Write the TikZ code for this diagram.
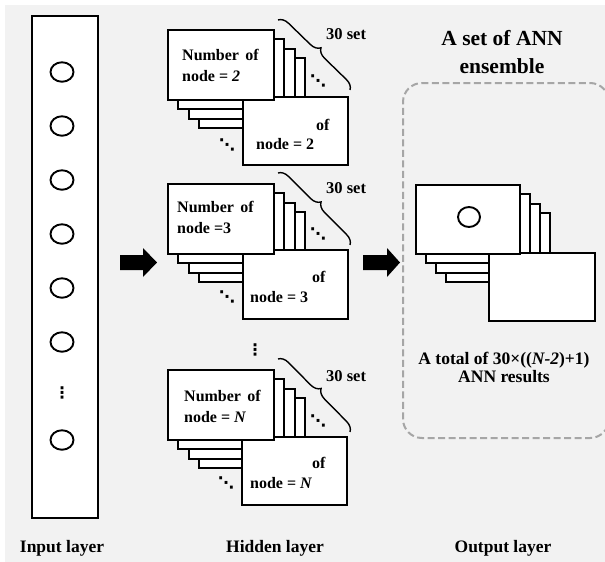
\documentclass[tikz,border=0pt]{standalone}
\usepackage{fontspec}
\setmainfont{Liberation Serif}
\newfontfamily\symfont{DejaVu Sans}
\usetikzlibrary{decorations.pathreplacing,shapes.geometric}
\definecolor{bgc}{HTML}{F2F2F2}
\definecolor{dashc}{HTML}{A6A6A6}
\begin{document}
\begin{tikzpicture}[x=1pt,y=-1pt,
  card/.style={draw=black,line width=2.1pt,fill=white,inner sep=0pt,anchor=north west,minimum width=106pt,minimum height=70pt},
  lastcard/.style={card,minimum width=105pt,minimum height=68pt},
  neuron/.style={draw=black,line width=1.9pt,ellipse,minimum width=23pt,minimum height=19.5pt,inner sep=0pt},
  cardtxt/.style={font=\fontsize{16}{20}\selectfont\bfseries,anchor=base west,inner sep=0pt},
  settxt/.style={font=\fontsize{16.5}{20}\selectfont\bfseries,anchor=base west,inner sep=0pt},
  lbl/.style={font=\fontsize{17.5}{20}\selectfont\bfseries,anchor=base,inner sep=0pt},
  ttl/.style={font=\fontsize{21.5}{26}\selectfont\bfseries,anchor=base,inner sep=0pt},
  tot/.style={font=\fontsize{17.5}{20}\selectfont\bfseries,anchor=base,inner sep=0pt},
  dotsym/.style={font=\fontsize{16}{16}\symfont\bfseries,inner sep=0pt},
  brc/.style={decorate,decoration={brace,amplitude=10pt},line width=1.4pt},
  blockarrow/.style={fill=black}]
\clip (0,0) rectangle (605,562);
\fill[white] (0,0) rectangle (605,562);
\fill[bgc] (5,5) rectangle (605,562);

% ---------- input layer ----------
\node[draw,line width=2.1pt,fill=white,minimum width=66pt,minimum height=502pt,anchor=north west,inner sep=0pt] (input) at (31,15) {};
\foreach \y [count=\i] in {72,126,180,234,288,342}
  \node[neuron] (n\i) at (62,\y) {};
\node[dotsym] (ndots) at (62,393) {⋮};
\node[neuron] (nN) at (62,440) {};
\node[lbl] (inlbl) at (62,552) {Input layer};

% ---------- arrows ----------
\coordinate (a1) at (120,262.5);
\fill[blockarrow] (a1) ++(0,-7.5) -- ++(23,0) -- ++(0,-7) -- (157,262.5) -- (143,277) -- ++(0,-7) -- (120,270) -- cycle;
\coordinate (a2) at (363,262.5);
\fill[blockarrow] (a2) ++(0,-7.5) -- ++(24,0) -- ++(0,-7) -- (400,262.5) -- (387,277) -- ++(0,-7) -- (363,270) -- cycle;

% ---------- hidden group 1 ----------
\foreach \k in {3,2,1}
  \node[card] (g1c\k) at ({167+10.3*\k},{29+9.3*\k}) {};
\node[lastcard] (g1last) at (242,96) {};
\node[card] (g1c0) at (167,29) {};
\node[cardtxt] (g1t1) at (182,60) {Number\hspace{0.4em}of};
\node[cardtxt] (g1t2) at (182,81) {node = \textit{2}};
\node[cardtxt] (g1l1) at (316,130) {of};
\node[cardtxt] (g1l2) at (256,149) {node = 2};
\node[dotsym] (g1d1) at (318,81) {⋱};
\node[dotsym] (g1d2) at (227,145) {⋱};
\coordinate (g1bs) at (278,20);
\coordinate (g1be) at (350,90);
\draw[brc] (g1bs) -- (g1be);
\node[settxt] (g1set) at (326,39.5) {30 set};

% ---------- hidden group 2 ----------
\foreach \k in {3,2,1}
  \node[card] (g2c\k) at ({167+10.3*\k},{183+9.3*\k}) {};
\node[lastcard,minimum height=69pt] (g2last) at (242,249) {};
\node[card] (g2c0) at (167,183) {};
\node[cardtxt] (g2t1) at (177,212) {Number\hspace{0.4em}of};
\node[cardtxt] (g2t2) at (177,233) {node =3};
\node[cardtxt] (g2l1) at (312,282) {of};
\node[cardtxt] (g2l2) at (250,302) {node = 3};
\node[dotsym] (g2d1) at (318,234) {⋱};
\node[dotsym] (g2d2) at (227,297) {⋱};
\coordinate (g2bs) at (278,173);
\coordinate (g2be) at (350,245);
\draw[brc] (g2bs) -- (g2be);
\node[settxt] (g2set) at (326,193.5) {30 set};

\node[dotsym] (vdots) at (255,350) {⋮};

% ---------- hidden group 3 ----------
\foreach \k in {3,2,1}
  \node[card] (g3c\k) at ({167+10.3*\k},{369+9.3*\k}) {};
\node[lastcard] (g3last) at (241,436) {};
\node[card] (g3c0) at (167,369) {};
\node[cardtxt] (g3t1) at (184,401) {Number\hspace{0.4em}of};
\node[cardtxt] (g3t2) at (184,422) {node = \textit{N}};
\node[cardtxt] (g3l1) at (312,468) {of};
\node[cardtxt] (g3l2) at (250,488) {node = \textit{N}};
\node[dotsym] (g3d1) at (318,421) {⋱};
\node[dotsym] (g3d2) at (226,483) {⋱};
\coordinate (g3bs) at (278,359);
\coordinate (g3be) at (350,432);
\draw[brc] (g3bs) -- (g3be);
\node[settxt] (g3set) at (326,381) {30 set};

\node[lbl] (hidlbl) at (275,552) {Hidden layer};

% ---------- output ----------
\node[ttl] (title1) at (502,45) {A set of ANN};
\node[ttl] (title2) at (502,73) {ensemble};
\coordinate (ensA) at (609,110);
\coordinate (ensB) at (609,410);
\draw[dashc,line width=2pt,dash pattern=on 7pt off 3.5pt,rounded corners=19pt]
  (ensA) -- (609,83) -- (403,83) -- (403,438) -- (609,438) -- (ensB);
\foreach \k in {3,2,1}
  \node[card,minimum width=104pt,minimum height=69pt] (oc\k) at ({415+10*\k},{184+9.3*\k}) {};
\node[lastcard,minimum width=106pt] (olast) at (488,252) {};
\node[card,minimum width=104pt,minimum height=69pt] (oc0) at (415,184) {};
\node[neuron,minimum width=22pt,minimum height=20pt] (on) at (469,217) {};
\node[tot] (tot1) at (504,364.5) {A total of 30×((\textit{N-2})+1)};
\node[tot] (tot2) at (504,382.5) {ANN results};
\node[lbl] (outlbl) at (503,552) {Output layer};
\end{tikzpicture}
\end{document}
